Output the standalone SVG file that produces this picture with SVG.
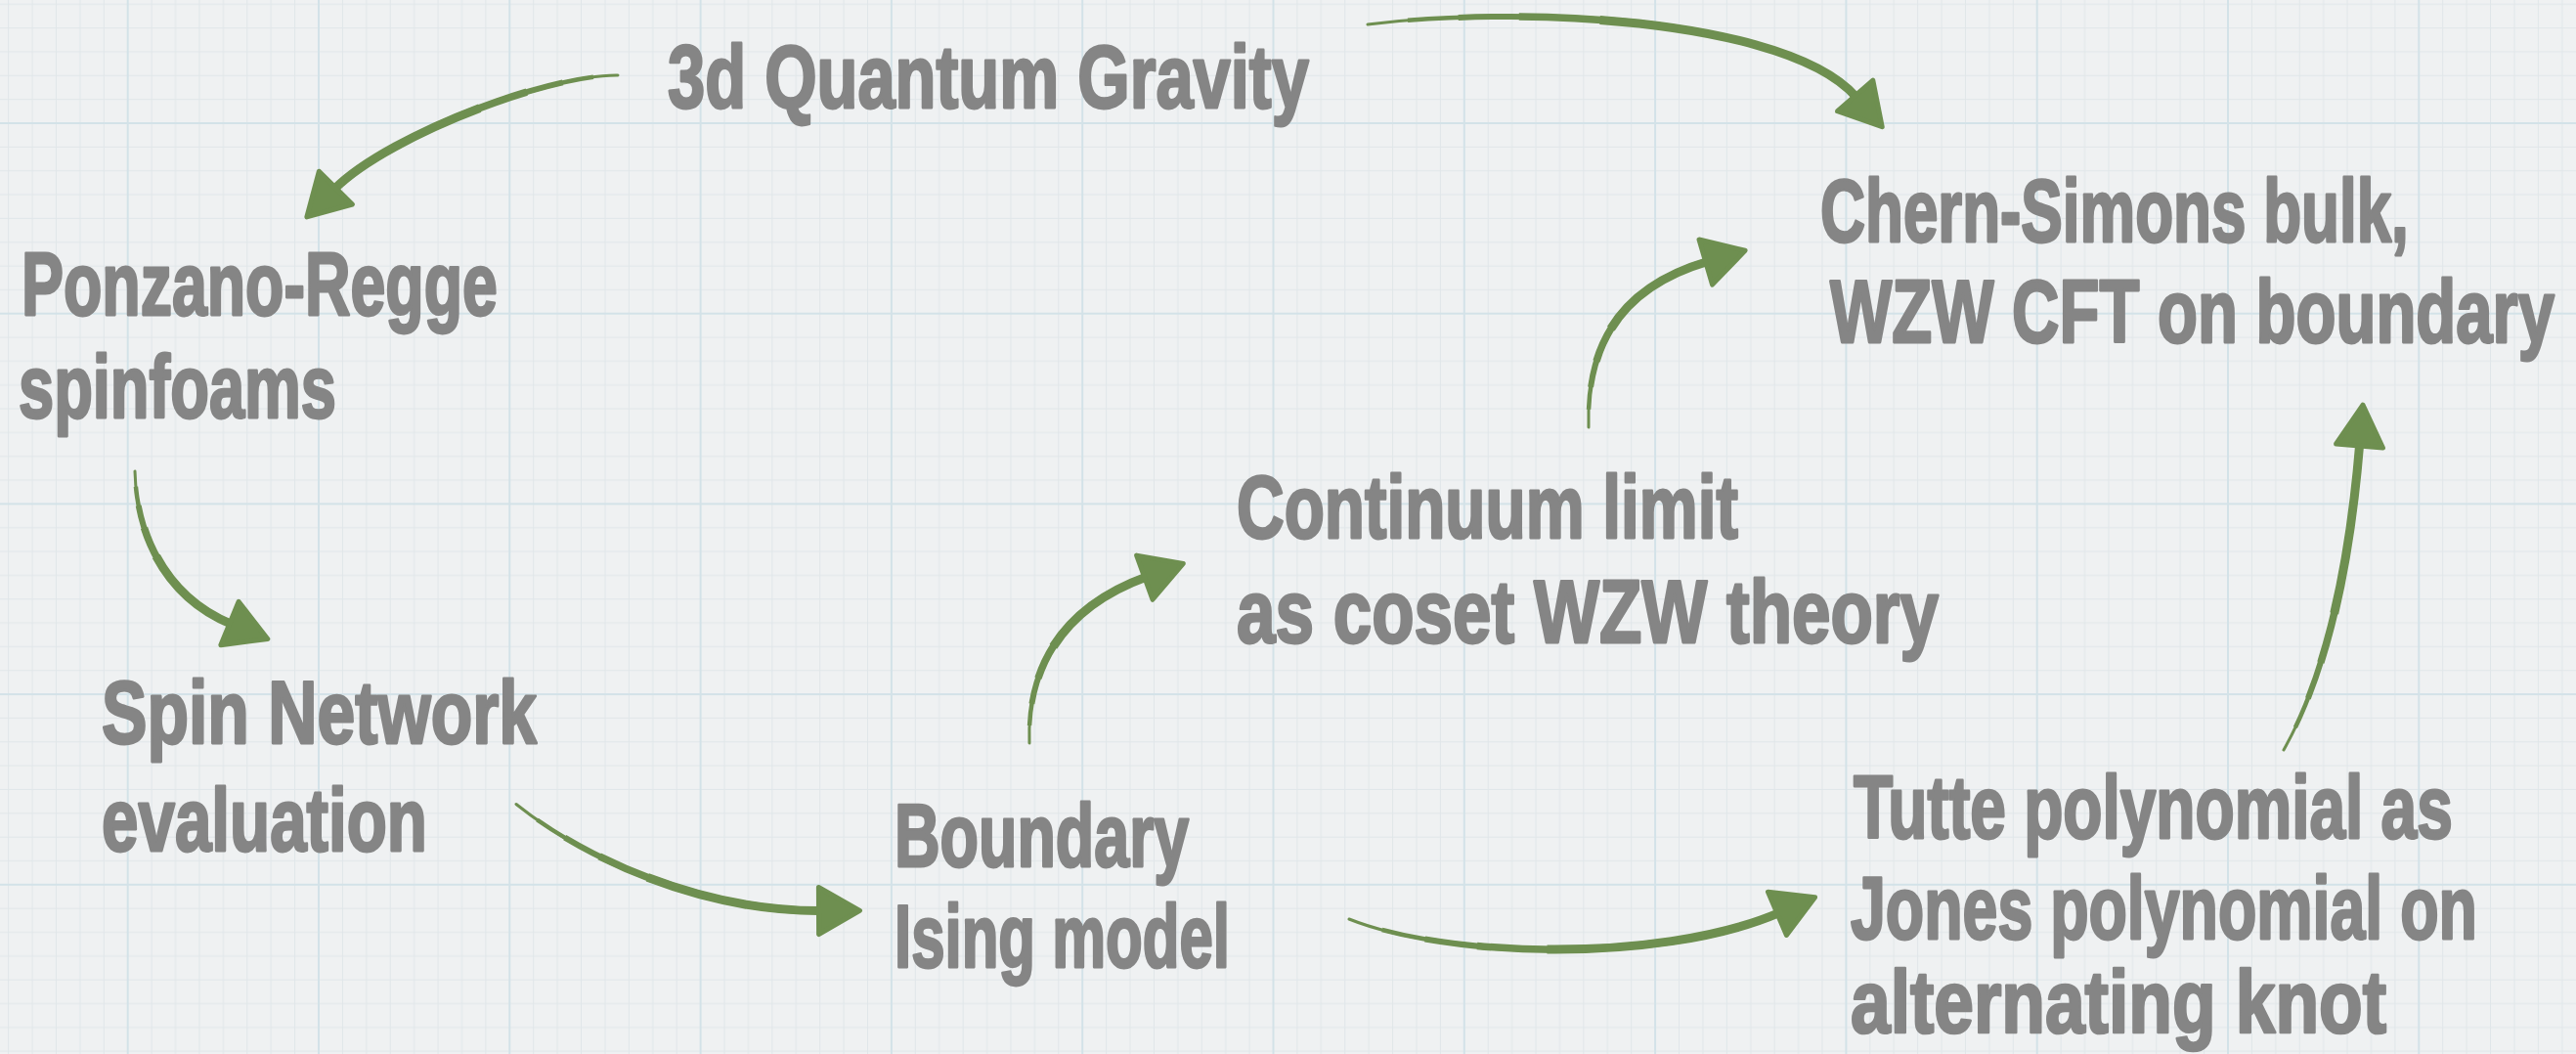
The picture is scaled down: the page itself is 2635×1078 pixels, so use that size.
<svg xmlns="http://www.w3.org/2000/svg" width="2635" height="1078" viewBox="0 0 2635 1078">
  <defs>
    <style>
      .lbl { font-family: "Liberation Sans", Arial, sans-serif; font-weight: bold; font-size: 90px; fill: #858585; stroke: #858585; stroke-width: 2.5; stroke-linejoin: round; vector-effect: non-scaling-stroke; }
      .edge use { fill: none; stroke: #6e8f50; }
      .w1 { stroke-width: 3; stroke-linecap: round; }
      .w2 { stroke-width: 4.5; stroke-dasharray: 0 8 92; }
      .w3 { stroke-width: 6; stroke-dasharray: 0 18 82; }
      .w4 { stroke-width: 7.5; stroke-dasharray: 0 30 70; }
      .w5 { stroke-width: 9; stroke-dasharray: 0 46 54; marker-end: url(#ah); }
    </style>
    <marker id="ah" markerUnits="userSpaceOnUse" viewBox="-5 -30 55 60" markerWidth="55" markerHeight="60" refX="2" refY="0" orient="auto">
      <path d="M0,-24 L42,0 L0,24 Z" fill="#6e8f50" stroke="#6e8f50" stroke-width="5" stroke-linejoin="round"/>
    </marker>
    <pattern id="grid" patternUnits="userSpaceOnUse" x="129.7" y="125" width="195.3" height="194.7">
      <g fill="#e0e6e9">
        <rect x="24.9" y="0" width="1" height="194.7"/>
        <rect x="49.3" y="0" width="1" height="194.7"/>
        <rect x="73.7" y="0" width="1" height="194.7"/>
        <rect x="98.2" y="0" width="1" height="194.7"/>
        <rect x="122.6" y="0" width="1" height="194.7"/>
        <rect x="147.0" y="0" width="1" height="194.7"/>
        <rect x="171.4" y="0" width="1" height="194.7"/>
        <rect y="24.8" x="0" height="1" width="195.3"/>
        <rect y="49.2" x="0" height="1" width="195.3"/>
        <rect y="73.5" x="0" height="1" width="195.3"/>
        <rect y="97.9" x="0" height="1" width="195.3"/>
        <rect y="122.2" x="0" height="1" width="195.3"/>
        <rect y="146.5" x="0" height="1" width="195.3"/>
        <rect y="170.9" x="0" height="1" width="195.3"/>
      </g>
      <g fill="#d3e2e8">
        <rect x="0" y="0" width="2" height="194.7"/>
        <rect x="0" y="0" width="195.3" height="2"/>
      </g>
    </pattern>
    <path id="p-qg-ponzano" pathLength="100" d="M632,77 C560,76 395,140 342,193.5"/>
    <path id="p-qg-chern" pathLength="100" d="M1399,25 C1560,5 1830,20 1899,99.5"/>
    <path id="p-ponzano-spin" pathLength="100" d="M138,482 C140,560 180,615 236.8,638.3"/>
    <path id="p-spin-boundary" pathLength="100" d="M528,822.5 C600,880 720,932 839.5,931.5"/>
    <path id="p-boundary-continuum" pathLength="100" d="M1053,760 C1050,680 1090,620 1172.7,590"/>
    <path id="p-continuum-chern" pathLength="100" d="M1625,437 C1622,340 1670,290 1746.7,267.5"/>
    <path id="p-boundary-tutte" pathLength="100" d="M1380,940 C1480,980 1700,985 1819.8,933.6"/>
    <path id="p-tutte-chern" pathLength="100" d="M2336,767 C2385,680 2405,560 2413.7,454"/>
  </defs>

  <rect x="0" y="0" width="2635" height="1078" fill="#eff1f2"/>
  <rect x="0" y="0" width="2635" height="1078" fill="url(#grid)"/>

  <g id="connectors">
    <g class="edge" id="edge-qg-ponzano">
      <use href="#p-qg-ponzano" class="w1"/><use href="#p-qg-ponzano" class="w2"/><use href="#p-qg-ponzano" class="w3"/><use href="#p-qg-ponzano" class="w4"/><use href="#p-qg-ponzano" class="w5"/>
    </g>
    <g class="edge" id="edge-qg-chern">
      <use href="#p-qg-chern" class="w1"/><use href="#p-qg-chern" class="w2"/><use href="#p-qg-chern" class="w3"/><use href="#p-qg-chern" class="w4"/><use href="#p-qg-chern" class="w5"/>
    </g>
    <g class="edge" id="edge-ponzano-spin">
      <use href="#p-ponzano-spin" class="w1"/><use href="#p-ponzano-spin" class="w2"/><use href="#p-ponzano-spin" class="w3"/><use href="#p-ponzano-spin" class="w4"/><use href="#p-ponzano-spin" class="w5"/>
    </g>
    <g class="edge" id="edge-spin-boundary">
      <use href="#p-spin-boundary" class="w1"/><use href="#p-spin-boundary" class="w2"/><use href="#p-spin-boundary" class="w3"/><use href="#p-spin-boundary" class="w4"/><use href="#p-spin-boundary" class="w5"/>
    </g>
    <g class="edge" id="edge-boundary-continuum">
      <use href="#p-boundary-continuum" class="w1"/><use href="#p-boundary-continuum" class="w2"/><use href="#p-boundary-continuum" class="w3"/><use href="#p-boundary-continuum" class="w4"/><use href="#p-boundary-continuum" class="w5"/>
    </g>
    <g class="edge" id="edge-continuum-chern">
      <use href="#p-continuum-chern" class="w1"/><use href="#p-continuum-chern" class="w2"/><use href="#p-continuum-chern" class="w3"/><use href="#p-continuum-chern" class="w4"/><use href="#p-continuum-chern" class="w5"/>
    </g>
    <g class="edge" id="edge-boundary-tutte">
      <use href="#p-boundary-tutte" class="w1"/><use href="#p-boundary-tutte" class="w2"/><use href="#p-boundary-tutte" class="w3"/><use href="#p-boundary-tutte" class="w4"/><use href="#p-boundary-tutte" class="w5"/>
    </g>
    <g class="edge" id="edge-tutte-chern">
      <use href="#p-tutte-chern" class="w1"/><use href="#p-tutte-chern" class="w2"/><use href="#p-tutte-chern" class="w3"/><use href="#p-tutte-chern" class="w4"/><use href="#p-tutte-chern" class="w5"/>
    </g>
  </g>

  <g id="node-3d-quantum-gravity">
    <text class="lbl" transform="translate(683,110) scale(0.7626,1)">3d Quantum Gravity</text>
  </g>
  <g id="node-ponzano-regge">
    <text class="lbl" transform="translate(22,322) scale(0.716,1)">Ponzano-Regge</text>
    <text class="lbl" transform="translate(19,427) scale(0.722,1)">spinfoams</text>
  </g>
  <g id="node-chern-simons">
    <text class="lbl" transform="translate(1862,247) scale(0.708,1)">Chern-Simons bulk,</text>
    <text class="lbl" transform="translate(1872,350) scale(0.745,1)">WZW CFT on boundary</text>
  </g>
  <g id="node-continuum-limit">
    <text class="lbl" transform="translate(1265,550) scale(0.749,1)">Continuum limit</text>
    <text class="lbl" transform="translate(1265,657) scale(0.789,1)">as coset WZW theory</text>
  </g>
  <g id="node-spin-network">
    <text class="lbl" transform="translate(104,760) scale(0.774,1)">Spin Network</text>
    <text class="lbl" transform="translate(104,870) scale(0.748,1)">evaluation</text>
  </g>
  <g id="node-boundary-ising">
    <text class="lbl" transform="translate(915,886) scale(0.717,1)">Boundary</text>
    <text class="lbl" transform="translate(915,989) scale(0.686,1)">Ising model</text>
  </g>
  <g id="node-tutte-polynomial">
    <text class="lbl" transform="translate(1896,857) scale(0.731,1)">Tutte polynomial as</text>
    <text class="lbl" transform="translate(1893,960) scale(0.716,1)">Jones polynomial on</text>
    <text class="lbl" transform="translate(1893,1056) scale(0.812,1)">alternating knot</text>
  </g>
</svg>
